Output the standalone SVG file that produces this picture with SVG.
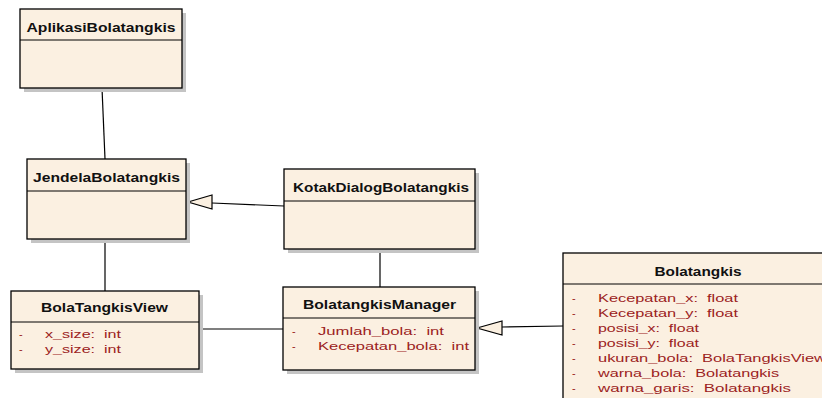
<svg xmlns="http://www.w3.org/2000/svg" width="822" height="398" viewBox="0 0 822 398" xml:space="preserve">
<style>
.shadow{fill:#c4c4c4;}
.box{fill:#fbf0e1;stroke:#000;stroke-width:1.3;}
.div{stroke:#000;stroke-width:1;}
.title{font-family:"Liberation Sans",Arial,sans-serif;font-size:12px;font-weight:bold;fill:#111;text-anchor:middle;}
.attr{font-family:"Liberation Sans",Arial,sans-serif;font-size:11px;fill:#9b2222;white-space:pre;}
.conn{stroke:#000;stroke-width:1.2;fill:none;}
.tri{fill:#fbf0e1;stroke:#000;stroke-width:1.2;}
</style>
<rect width="822" height="398" fill="#fff"/>
<g id="connectors">
<line class="conn" x1="102" y1="88" x2="105" y2="159"/>
<line class="conn" x1="105" y1="239" x2="105" y2="291"/>
<line class="conn" x1="380" y1="249" x2="380" y2="287"/>
<line class="conn" x1="199" y1="329" x2="283" y2="329"/>
<line class="conn" x1="212" y1="203" x2="284" y2="206"/>
<polygon class="tri" points="188,202 212,195 212,209"/>
<line class="conn" x1="502" y1="327" x2="563" y2="326"/>
<polygon class="tri" points="477,328 502,321 502,335"/>
</g>
<g id="AplikasiBolatangkis">
<rect class="shadow" x="24" y="13" width="162" height="79"/>
<rect class="box" x="20" y="9" width="162" height="79"/>
<line class="div" x1="20" y1="40" x2="182" y2="40"/>
<text class="title" x="101" y="32" textLength="149" lengthAdjust="spacingAndGlyphs">AplikasiBolatangkis</text>
</g>
<g id="JendelaBolatangkis">
<rect class="shadow" x="31" y="163" width="159" height="80"/>
<rect class="box" x="27" y="159" width="159" height="80"/>
<line class="div" x1="27" y1="191" x2="186" y2="191"/>
<text class="title" x="106.5" y="182" textLength="147" lengthAdjust="spacingAndGlyphs">JendelaBolatangkis</text>
</g>
<g id="KotakDialogBolatangkis">
<rect class="shadow" x="288" y="173" width="191" height="80"/>
<rect class="box" x="284" y="169" width="191" height="80"/>
<line class="div" x1="284" y1="201" x2="475" y2="201"/>
<text class="title" x="381" y="192" textLength="176" lengthAdjust="spacingAndGlyphs">KotakDialogBolatangkis</text>
</g>
<g id="BolaTangkisView">
<rect class="shadow" x="15" y="295" width="188" height="78"/>
<rect class="box" x="11" y="291" width="188" height="78"/>
<line class="div" x1="11" y1="322" x2="199" y2="322"/>
<text class="title" x="104.5" y="312" textLength="127" lengthAdjust="spacingAndGlyphs">BolaTangkisView</text>
<text class="attr" x="19" y="338">-</text>
<text class="attr" x="45" y="338" textLength="76" lengthAdjust="spacingAndGlyphs">x_size:  int</text>
<text class="attr" x="19" y="353">-</text>
<text class="attr" x="45" y="353" textLength="76" lengthAdjust="spacingAndGlyphs">y_size:  int</text>
</g>
<g id="BolatangkisManager">
<rect class="shadow" x="287" y="291" width="192" height="83"/>
<rect class="box" x="283" y="287" width="192" height="83"/>
<line class="div" x1="283" y1="318" x2="475" y2="318"/>
<text class="title" x="379.5" y="309" textLength="153" lengthAdjust="spacingAndGlyphs">BolatangkisManager</text>
<text class="attr" x="292" y="335">-</text>
<text class="attr" x="318" y="335" textLength="126" lengthAdjust="spacingAndGlyphs">Jumlah_bola:  int</text>
<text class="attr" x="292" y="350">-</text>
<text class="attr" x="318" y="350" textLength="151" lengthAdjust="spacingAndGlyphs">Kecepatan_bola:  int</text>
</g>
<g id="Bolatangkis">
<rect class="shadow" x="567" y="257" width="272" height="160"/>
<rect class="box" x="563" y="253" width="272" height="160"/>
<line class="div" x1="563" y1="284" x2="835" y2="284"/>
<text class="title" x="698" y="276" textLength="87" lengthAdjust="spacingAndGlyphs">Bolatangkis</text>
<text class="attr" x="572" y="302">-</text>
<text class="attr" x="598" y="302" textLength="140" lengthAdjust="spacingAndGlyphs">Kecepatan_x:  float</text>
<text class="attr" x="572" y="317">-</text>
<text class="attr" x="598" y="317" textLength="140" lengthAdjust="spacingAndGlyphs">Kecepatan_y:  float</text>
<text class="attr" x="572" y="332">-</text>
<text class="attr" x="598" y="332" textLength="101" lengthAdjust="spacingAndGlyphs">posisi_x:  float</text>
<text class="attr" x="572" y="347">-</text>
<text class="attr" x="598" y="347" textLength="101" lengthAdjust="spacingAndGlyphs">posisi_y:  float</text>
<text class="attr" x="572" y="362">-</text>
<text class="attr" x="598" y="362" textLength="228" lengthAdjust="spacingAndGlyphs">ukuran_bola:  BolaTangkisView</text>
<text class="attr" x="572" y="377">-</text>
<text class="attr" x="598" y="377" textLength="181" lengthAdjust="spacingAndGlyphs">warna_bola:  Bolatangkis</text>
<text class="attr" x="572" y="392">-</text>
<text class="attr" x="598" y="392" textLength="193" lengthAdjust="spacingAndGlyphs">warna_garis:  Bolatangkis</text>
</g>
</svg>
